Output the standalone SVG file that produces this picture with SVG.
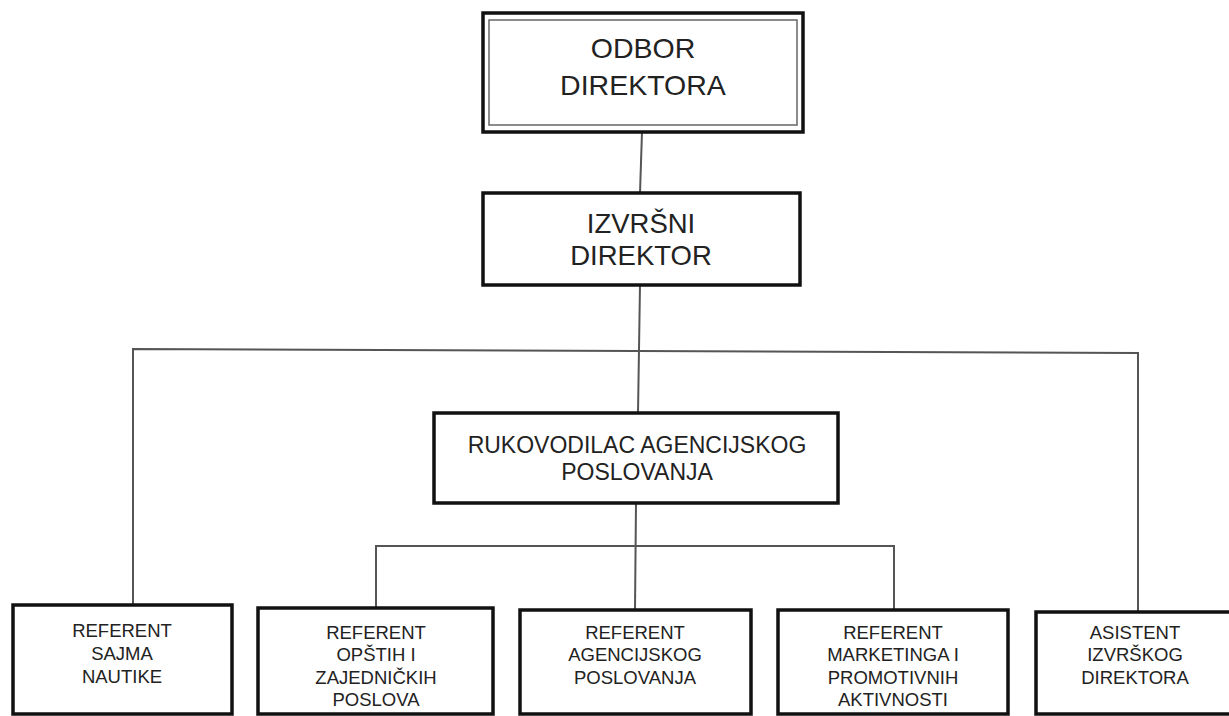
<svg xmlns="http://www.w3.org/2000/svg" width="1229" height="716" viewBox="0 0 1229 716">
<style>
.box{fill:#fff;stroke:#111;stroke-width:3.5}
.inner{fill:none;stroke:#666;stroke-width:1.5}
.conn{fill:none;stroke:#555;stroke-width:2}
text{font-family:"Liberation Sans",Arial,sans-serif;fill:#222;text-anchor:middle}
.big{font-size:28.5px}
.mid{font-size:23px}
.sm{font-size:18.5px}
</style>
<rect width="1229" height="716" fill="#fff"/>
<g id="connectors">
<path class="conn" d="M642,132 L640,193"/>
<path class="conn" d="M640,285 L638,413"/>
<path class="conn" d="M133,605 L133,349 L1138,353 L1138,612"/>
<path class="conn" d="M636,503 L635,610"/>
<path class="conn" d="M376,608 L376,546 L894,546 L894,610"/>
</g>
<g id="odbor-direktora">
<rect class="box" x="483" y="13" width="320" height="119" stroke-width="4"/>
<rect class="inner" x="489" y="20" width="308" height="105"/>
<text class="big" x="643" y="58">ODBOR</text>
<text class="big" x="643" y="95">DIREKTORA</text>
</g>
<g id="izvrsni-direktor">
<rect class="box" x="483" y="193" width="317" height="92"/>
<text class="big" x="641" y="233" style="font-size:27.5px">IZVRŠNI</text>
<text class="big" x="641" y="265" style="font-size:27.5px">DIREKTOR</text>
</g>
<g id="rukovodilac">
<rect class="box" x="434" y="413" width="404" height="90"/>
<text class="mid" x="637" y="453">RUKOVODILAC AGENCIJSKOG</text>
<text class="mid" x="637" y="480">POSLOVANJA</text>
</g>
<g id="referent-sajma">
<rect class="box" x="13" y="605" width="219" height="109"/>
<text class="sm" x="122" y="637">REFERENT</text>
<text class="sm" x="122" y="660">SAJMA</text>
<text class="sm" x="122" y="683">NAUTIKE</text>
</g>
<g id="referent-opstih">
<rect class="box" x="258" y="608" width="235" height="106"/>
<text class="sm" x="376" y="639">REFERENT</text>
<text class="sm" x="376" y="661">OPŠTIH I</text>
<text class="sm" x="376" y="684">ZAJEDNIČKIH</text>
<text class="sm" x="376" y="706">POSLOVA</text>
</g>
<g id="referent-agencijskog">
<rect class="box" x="520" y="610" width="231" height="104"/>
<text class="sm" x="635" y="639">REFERENT</text>
<text class="sm" x="635" y="661">AGENCIJSKOG</text>
<text class="sm" x="635" y="684">POSLOVANJA</text>
</g>
<g id="referent-marketinga">
<rect class="box" x="778" y="610" width="230" height="104"/>
<text class="sm" x="893" y="639">REFERENT</text>
<text class="sm" x="893" y="661">MARKETINGA I</text>
<text class="sm" x="893" y="684">PROMOTIVNIH</text>
<text class="sm" x="893" y="706">AKTIVNOSTI</text>
</g>
<g id="asistent">
<rect class="box" x="1036" y="612" width="210" height="102"/>
<text class="sm" x="1135" y="639">ASISTENT</text>
<text class="sm" x="1135" y="661">IZVRŠKOG</text>
<text class="sm" x="1135" y="684">DIREKTORA</text>
</g>
</svg>
